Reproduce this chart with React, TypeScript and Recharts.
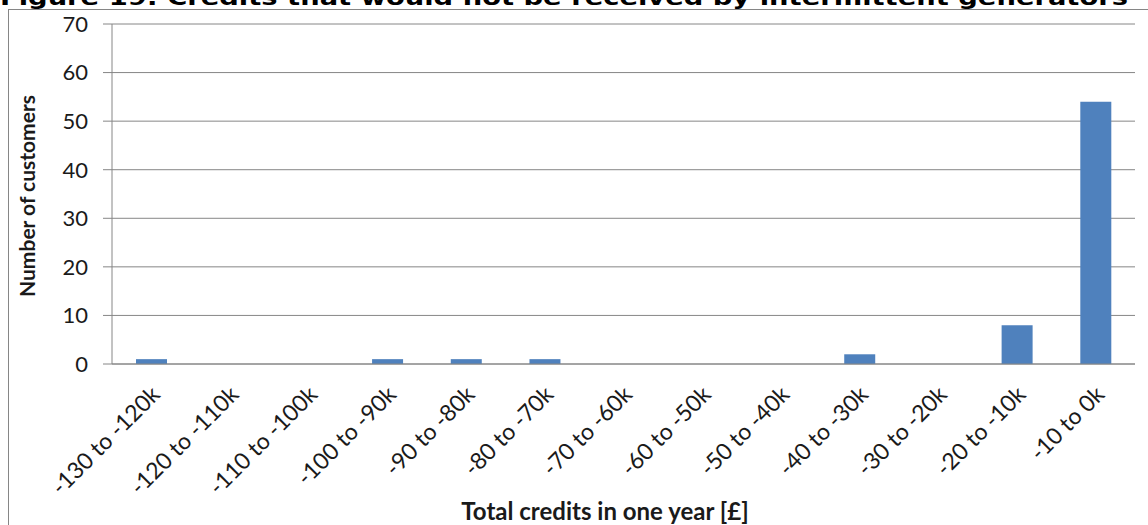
import { BarChart, Bar, XAxis, YAxis, CartesianGrid } from 'recharts';

// credit bands (£k) and number of customers per band
const bands = [
  '-130 to -120k',
  '-120 to -110k',
  '-110 to -100k',
  '-100 to -90k',
  '-90 to -80k',
  '-80 to -70k',
  '-70 to -60k',
  '-60 to -50k',
  '-50 to -40k',
  '-40 to -30k',
  '-30 to -20k',
  '-20 to -10k',
  '-10 to 0k',
];
const customers = [1, 0, 0, 1, 1, 1, 0, 0, 0, 2, 0, 8, 54];
const yTicks = [0, 10, 20, 30, 40, 50, 60, 70];

const data = bands.map((band, i) => ({ band, customers: customers[i] }));

const FONT = 'Lato, "Open Sans", sans-serif';
const GRID = '#868686';
const INK = '#1a1a1a';

function BandTick({ x, y, payload }: any) {
  return (
    <text
      transform={`translate(${x + 10},${y + 24}) rotate(-45)`}
      textAnchor="end"
      fontSize={23}
      fontFamily={FONT}
      fill={INK}
    >
      {payload.value}
    </text>
  );
}

export default function App() {
  return (
    <div style={{ position: 'absolute', left: 0, top: 0, width: 1148, height: 525, overflow: 'hidden', background: '#fff' }}>
      {/* chart frame, right and bottom edges fall outside the crop */}
      <div
        style={{
          position: 'absolute',
          left: 8,
          top: 9,
          width: 1160,
          height: 540,
          border: `1px solid ${GRID}`,
          boxSizing: 'border-box',
        }}
      />
      <BarChart
        width={1148}
        height={525}
        data={data}
        margin={{ top: 24, right: 13, bottom: 0, left: 0 }}
        style={{ position: 'absolute', left: 0, top: 0 }}
      >
        <CartesianGrid vertical={false} stroke={GRID} strokeWidth={1} />
        <XAxis
          dataKey="band"
          interval={0}
          height={161}
          tickLine={false}
          axisLine={{ stroke: GRID }}
          tick={<BandTick />}
        />
        <YAxis
          width={112}
          domain={[0, 70]}
          ticks={yTicks}
          interval={0}
          tickSize={9}
          tickMargin={15}
          tickLine={{ stroke: GRID }}
          axisLine={{ stroke: GRID }}
          tick={{ fontSize: 22, fontFamily: FONT, fill: INK }}
        />
        <Bar dataKey="customers" fill="#4F81BD" barSize={31} isAnimationActive={false} />
      </BarChart>
      <svg width={1148} height={525} style={{ position: 'absolute', left: 0, top: 0, pointerEvents: 'none' }}>
        <text
          x={0}
          y={5}
          fontFamily='"DejaVu Sans", Verdana, sans-serif'
          fontWeight="bold"
          fontSize={22}
          textLength={1128}
          lengthAdjust="spacingAndGlyphs"
          fill="#000"
        >
          Figure 19: Credits that would not be received by intermittent generators
        </text>
        <text
          transform="translate(35,196) rotate(-90)"
          textAnchor="middle"
          fontFamily={FONT}
          fontWeight="bold"
          fontSize={21}
          fill={INK}
        >
          Number of customers
        </text>
        <text x={605} y={520} textAnchor="middle" fontFamily={FONT} fontWeight="bold" fontSize={24} fill={INK}>
          Total credits in one year [£]
        </text>
      </svg>
    </div>
  );
}
